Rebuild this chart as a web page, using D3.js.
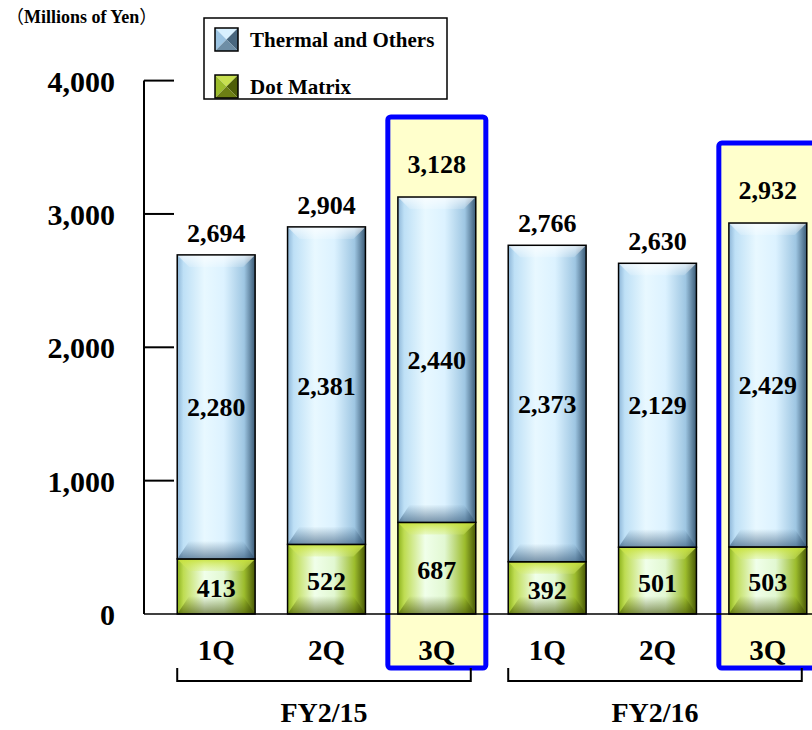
<html>
<head>
<meta charset="utf-8">
<script src="https://cdn.jsdelivr.net/npm/d3@7"></script>
<style>
  body { margin: 0; background: #fff; }
  text { font-family: "Liberation Serif", "Times New Roman", serif; font-weight: bold; fill: #000; }
</style>
</head>
<body>
<div id="chart"></div>
<script>
// data
var quarters  = ["1Q", "2Q", "3Q", "1Q", "2Q", "3Q"];
var thermal   = [2280, 2381, 2440, 2373, 2129, 2429];
var dotMatrix = [413, 522, 687, 392, 501, 503];
var totals    = [2694, 2904, 3128, 2766, 2630, 2932];
var highlight = [2, 5];
var years     = ["FY2/15", "FY2/16"];
var yearStart = [0, 3];
var yearEnd   = [2, 5];
var yTicks    = [0, 1000, 2000, 3000, 4000];
var seriesNames = ["Thermal and Others", "Dot Matrix"];

var W = 812, H = 730;
var svg = d3.select("#chart").append("svg").attr("width", W).attr("height", H);
var defs = svg.append("defs");

var y = d3.scaleLinear().domain([0, 4000]).range([614, 80.6]);
var x = d3.scaleBand().domain(d3.range(6)).range([161, 823])
  .paddingInner(0.294).paddingOuter(0.147);
var fmt = d3.format(",");

// gradients
function hGrad(id, stops) {
  var g = defs.append("linearGradient").attr("id", id)
    .attr("x1", "0%").attr("x2", "100%").attr("y1", "0%").attr("y2", "0%");
  stops.forEach(function(s) { g.append("stop").attr("offset", s[0]).attr("stop-color", s[1]); });
}
function vGrad(id, stops) {
  var g = defs.append("linearGradient").attr("id", id)
    .attr("x1", "0%").attr("x2", "0%").attr("y1", "0%").attr("y2", "100%");
  stops.forEach(function(s) {
    g.append("stop").attr("offset", s[0]).attr("stop-color", s[1]).attr("stop-opacity", s[2]);
  });
}
hGrad("blueH", [["0%", "#8DB6D8"], ["8%", "#BEE0F6"], ["35%", "#E8F8FF"], ["60%", "#DCF2FF"], ["86%", "#9EC6E2"], ["100%", "#3A5A76"]]);
hGrad("greenH", [["0%", "#8CB21C"], ["8%", "#BEDC52"], ["35%", "#F0FFEA"], ["60%", "#E2F8D2"], ["86%", "#9CBC2C"], ["100%", "#485806"]]);
vGrad("blueTop", [["0%", "#FFFFFF", 0.7], ["100%", "#FFFFFF", 0.15]]);
vGrad("blueBot", [["0%", "#2E5070", 0.0], ["100%", "#2E5070", 0.6]]);
vGrad("greenTop", [["0%", "#C8E23A", 0.95], ["100%", "#D8EE70", 0.3]]);
vGrad("greenBot", [["0%", "#3C4A00", 0.0], ["100%", "#3C4A00", 0.6]]);

// highlight boxes behind 3Q bars
svg.selectAll(".hl").data(highlight).enter().append("rect")
  .attr("x", function(i) { return x(i) + x.bandwidth() / 2 - 49; })
  .attr("y", function(i) { return y(totals[i]) - 80; })
  .attr("width", 98)
  .attr("height", function(i) { return 668 - (y(totals[i]) - 80); })
  .attr("rx", 3)
  .style("fill", "#FFFFCC").style("stroke", "#0000FF").style("stroke-width", 5);

// bevelled segment
function bevelBar(g, x0, y0, w, h, kind) {
  var b = Math.min(12, h / 3), bb = Math.min(18, h / 3);
  g.append("rect").attr("x", x0).attr("y", y0).attr("width", w).attr("height", h)
    .style("fill", "url(#" + kind + "H)");
  g.append("polygon")
    .attr("points", [[x0, y0], [x0 + w, y0], [x0 + w - b, y0 + b], [x0 + b, y0 + b]].join(" "))
    .style("fill", "url(#" + kind + "Top)");
  g.append("polygon")
    .attr("points", [[x0, y0 + h], [x0 + w, y0 + h], [x0 + w - b, y0 + h - bb], [x0 + b, y0 + h - bb]].join(" "))
    .style("fill", "url(#" + kind + "Bot)");
  g.append("rect").attr("x", x0).attr("y", y0).attr("width", w).attr("height", h)
    .style("fill", "none").style("stroke", "#000").style("stroke-width", 1.5);
}

var bars = svg.append("g");
d3.range(6).forEach(function(i) {
  var x0 = x(i), w = x.bandwidth();
  bevelBar(bars, x0, y(dotMatrix[i]), w, y(0) - y(dotMatrix[i]), "green");
  bevelBar(bars, x0, y(dotMatrix[i] + thermal[i]), w, y(dotMatrix[i]) - y(dotMatrix[i] + thermal[i]), "blue");
});

// value labels
var lab = svg.append("g").style("font-size", "26px").attr("text-anchor", "middle");
d3.range(6).forEach(function(i) {
  var cx = x(i) + x.bandwidth() / 2;
  var hl = highlight.indexOf(i) >= 0;
  lab.append("text").attr("x", cx).attr("y", y(totals[i]) - (hl ? 24 : 13)).text(fmt(totals[i]));
  lab.append("text").attr("x", cx).attr("y", (y(dotMatrix[i]) + y(dotMatrix[i] + thermal[i])) / 2 + 9)
    .text(fmt(thermal[i]));
  lab.append("text").attr("x", cx).attr("y", (y(0) + y(dotMatrix[i])) / 2 + 11)
    .text(fmt(dotMatrix[i]));
});

// y axis
var ax = svg.append("g");
ax.append("line").attr("x1", 144).attr("x2", 144).attr("y1", y(4000)).attr("y2", y(0))
  .style("stroke", "#000").style("stroke-width", 2);
ax.selectAll(".tk").data(yTicks.slice(1)).enter().append("line")
  .attr("x1", 144).attr("x2", 174).attr("y1", function(d) { return y(d); }).attr("y2", function(d) { return y(d); })
  .style("stroke", "#000").style("stroke-width", 2);
ax.selectAll(".tl").data(yTicks).enter().append("text")
  .attr("x", 115).attr("y", function(d) { return y(d) + 11; })
  .attr("text-anchor", "end").style("font-size", "30px")
  .text(function(d) { return fmt(d); });
ax.append("line").attr("x1", 144).attr("x2", W).attr("y1", y(0)).attr("y2", y(0))
  .style("stroke", "#000").style("stroke-width", 1.5);

// category labels
svg.selectAll(".cat").data(quarters).enter().append("text")
  .attr("x", function(d, i) { return x(i) + x.bandwidth() / 2; })
  .attr("y", 660).attr("text-anchor", "middle").style("font-size", "29px")
  .text(function(d) { return d; });

// year brackets
years.forEach(function(yr, k) {
  var x1 = x(yearStart[k]), x2 = x(yearEnd[k]) + x.bandwidth() - 5;
  svg.append("path").attr("d", "M" + x1 + ",668V681H" + x2 + "V668")
    .style("fill", "none").style("stroke", "#000").style("stroke-width", 2);
  svg.append("text").attr("x", (x1 + x2) / 2).attr("y", 722).attr("text-anchor", "middle")
    .style("font-size", "28px").text(yr);
});

// unit
var unit = svg.append("text").attr("x", 6).attr("y", 23).style("font-size", "18px");
unit.append("tspan").style("font-family", "'Noto Sans CJK JP'").style("font-weight", "normal").text("（");
unit.append("tspan").text("Millions of Yen");
unit.append("tspan").style("font-family", "'Noto Sans CJK JP'").style("font-weight", "normal").text("）");

// legend
var lg = svg.append("g");
lg.append("rect").attr("x", 204).attr("y", 18).attr("width", 243).attr("height", 81)
  .style("fill", "#fff").style("stroke", "#000").style("stroke-width", 1.5);
var swCols = [["#D8F0FF", "#9CC4E2", "#48667E", "#6E8EA6"], ["#C8E050", "#9CBC2C", "#4E5E08", "#6C7E14"]];
seriesNames.forEach(function(name, k) {
  var sx = 215, sy = 28 + k * 47, s = 23;
  var c = swCols[k], mx = sx + s / 2, my = sy + s / 2;
  var tris = [
    [[sx, sy], [sx + s, sy], [mx, my]],
    [[sx, sy], [sx, sy + s], [mx, my]],
    [[sx + s, sy], [sx + s, sy + s], [mx, my]],
    [[sx, sy + s], [sx + s, sy + s], [mx, my]]
  ];
  tris.forEach(function(t, j) {
    lg.append("polygon").attr("points", t.join(" ")).style("fill", c[j]);
  });
  lg.append("rect").attr("x", sx).attr("y", sy).attr("width", s).attr("height", s)
    .style("fill", "none").style("stroke", "#000").style("stroke-width", 1.5);
  lg.append("text").attr("x", 250).attr("y", sy + 19).style("font-size", "21px").text(name);
});
</script>
</body>
</html>
